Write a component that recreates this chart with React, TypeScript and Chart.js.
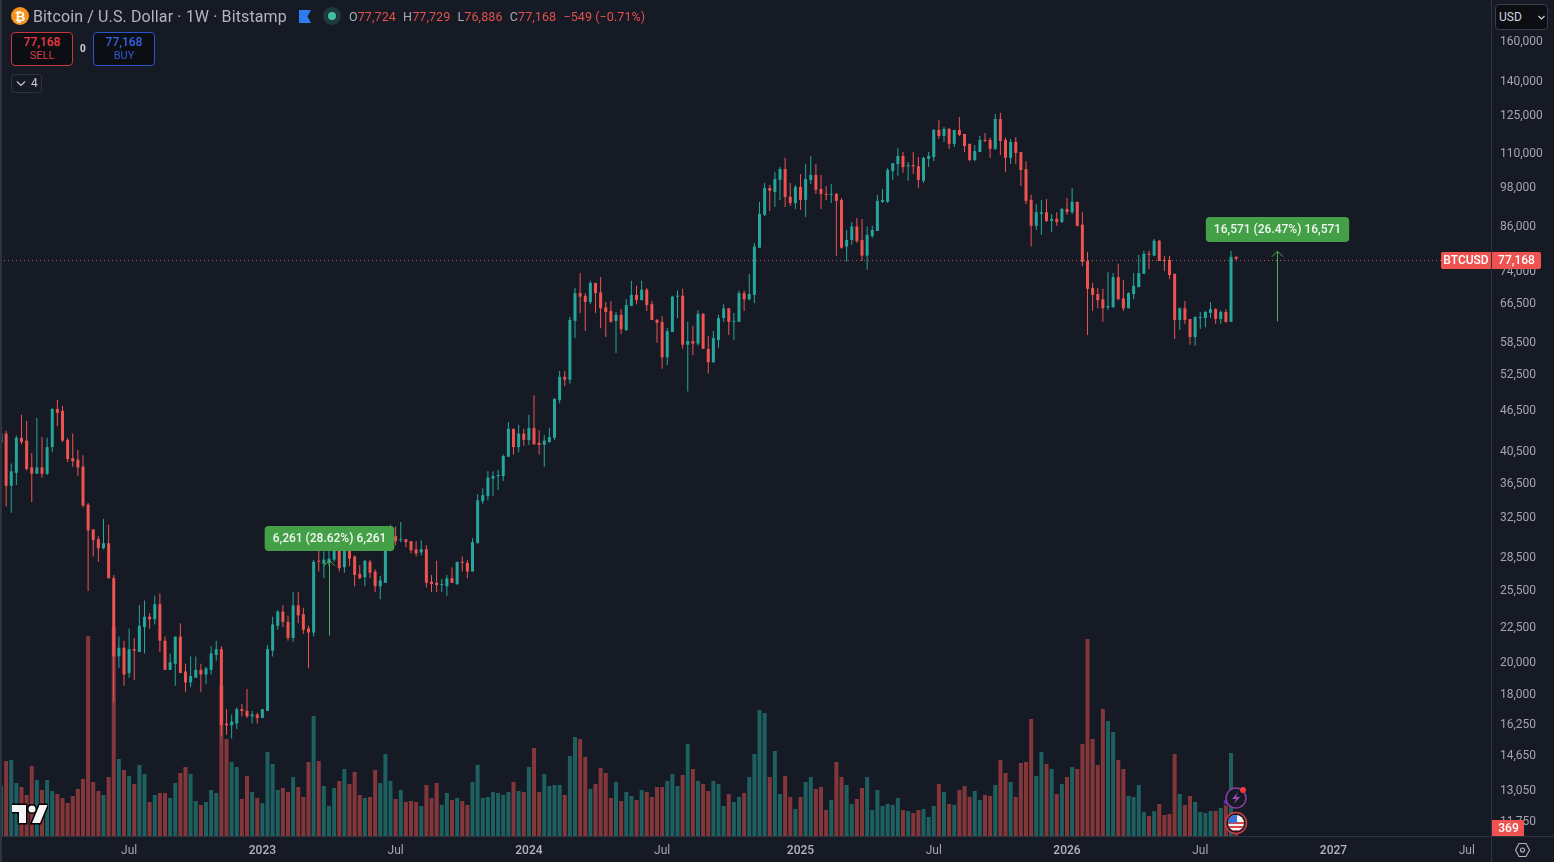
import React, { useEffect, useRef } from "react";
import { Chart, registerables } from "chart.js";

Chart.register(...registerables);

// Weekly BTC/USD candles, prices in thousands of dollars
const opens = [
  41.7,43.0,36.1,37.7,42.4,42.0,38.4,37.6,38.4,37.6,
  41.1,46.7,46.4,42.1,39.6,39.4,38.5,33.9,31.2,30.2,
  29.3,29.8,26.5,20.4,21.0,19.3,20.9,20.7,22.5,23.3,
  23.1,24.3,21.5,19.5,19.9,21.8,19.4,18.7,19.0,19.5,
  19.2,19.5,20.5,20.9,16.3,16.2,16.3,17.1,17.0,16.7,
  16.8,16.6,17.0,20.8,22.6,23.7,22.9,21.7,24.2,23.5,
  22.4,22.1,28.1,27.8,27.9,28.2,29.2,27.5,29.1,28.5,
  26.9,26.6,28.0,27.1,25.8,26.1,29.3,30.5,30.1,30.2,
  30.0,29.2,28.9,29.2,26.2,26.1,25.9,25.8,26.5,26.0,
  28.0,27.9,27.1,29.8,34.3,34.9,37.0,37.3,37.3,39.8,
  43.7,41.1,43.0,42.1,43.8,41.7,41.4,41.8,42.4,48.1,
  52.0,51.5,62.7,68.8,68.2,66.8,71.2,69.0,65.6,64.8,
  62.7,64.0,60.8,65.9,68.4,67.2,69.6,66.3,62.9,62.5,
  55.5,60.4,68.0,68.2,57.9,58.6,58.1,64.2,57.1,54.6,
  58.8,63.3,65.4,62.5,62.5,68.8,67.4,68.4,80.1,89.4,
  97.8,96.5,100.5,104.2,95.0,93.0,98.2,94.0,100.5,102.2,
  97.5,95.9,95.6,95.9,94.0,80.4,82.2,86.0,82.2,78.0,
  83.3,84.7,93.4,93.4,103.5,106.0,108.9,105.2,105.6,105.2,
  100.2,107.8,108.5,118.8,116.4,119.2,113.4,118.8,117.2,113.4,
  107.4,110.3,114.9,114.9,111.5,123.2,114.9,108.2,114.1,110.3,
  104.2,94.0,86.2,89.7,90.2,87.6,88.2,87.3,91.2,90.2,
  93.4,86.5,76.6,70.0,68.6,67.4,65.6,65.6,72.6,67.6,
  65.4,68.6,70.2,73.4,78.5,78.0,82.0,76.9,76.9,73.4,
  62.9,65.4,63.1,59.4,63.3,63.3,64.4,65.2,63.1,64.6,
  62.5,77.724,
];
const highs = [
  43.0,43.4,38.9,42.7,45.8,44.9,40.3,45.3,42.5,42.4,
  46.8,48.1,47.2,42.4,43.0,40.7,40.0,34.1,31.2,30.5,
  32.3,31.7,26.8,21.8,21.5,22.4,21.7,24.2,24.6,23.6,
  25.0,25.2,21.8,20.6,21.8,22.8,19.9,20.4,20.4,19.9,
  19.7,21.1,21.5,21.1,17.1,16.8,17.2,17.4,18.3,17.0,
  16.9,17.1,21.2,23.3,23.8,24.2,23.4,25.3,25.3,24.0,
  22.6,28.2,29.1,29.0,29.1,29.4,29.6,29.5,29.3,28.6,
  27.7,28.2,28.2,27.3,26.7,29.6,31.7,31.5,32.0,30.2,
  30.0,30.0,30.1,29.6,26.8,28.1,26.4,26.8,27.5,28.0,
  28.5,28.2,30.3,35.1,35.8,37.9,37.9,38.1,40.1,44.7,
  43.7,44.3,43.7,45.8,48.9,43.5,42.8,43.8,48.4,53.0,
  53.0,63.5,70.0,73.6,68.8,71.7,71.2,72.6,66.8,67.0,
  64.6,65.2,67.4,71.7,70.5,71.7,70.0,67.0,63.1,63.7,
  61.3,68.2,69.4,69.8,62.5,61.7,65.0,64.4,59.6,60.6,
  64.0,66.3,65.4,64.4,69.4,69.4,73.4,81.4,93.4,99.5,
  98.8,103.2,104.9,108.2,99.5,98.8,102.5,106.0,108.9,106.0,
  102.2,98.5,99.1,96.2,94.6,85.0,87.3,88.5,88.2,86.0,
  86.2,95.6,97.5,104.6,106.3,111.9,110.3,106.7,110.3,108.5,
  108.5,110.3,119.2,122.8,120.0,119.6,118.8,124.0,117.2,113.4,
  113.0,116.4,117.6,115.7,125.3,125.8,115.7,115.3,116.0,110.3,
  107.0,95.6,92.7,94.0,94.3,89.7,90.2,91.5,94.6,97.8,
  93.4,90.2,79.0,71.2,70.0,69.8,73.9,73.6,75.9,71.9,
  69.0,73.6,78.2,79.3,79.3,82.5,82.2,78.0,78.0,73.4,
  65.6,67.0,63.1,63.7,64.6,64.8,66.8,65.4,65.0,65.2,
  79.3,77.729,
];
const lows = [
  41.7,33.7,33.0,36.2,41.5,38.0,34.2,37.6,37.1,37.4,
  40.4,44.1,41.8,39.1,38.5,37.3,33.6,25.4,28.5,28.0,
  29.2,26.5,17.5,19.6,18.5,19.0,18.85,20.7,20.6,22.4,
  22.7,20.7,19.5,19.5,18.5,19.3,18.1,18.4,19.0,18.1,
  18.6,19.2,20.1,15.6,15.7,15.5,16.0,16.7,16.6,16.3,
  16.3,16.6,17.0,20.4,22.3,22.5,21.5,21.4,22.8,22.0,
  19.6,21.8,27.1,26.5,27.6,28.0,27.1,27.0,27.6,25.8,
  26.4,25.8,26.5,25.3,24.7,26.1,29.0,29.6,29.9,29.4,
  28.8,28.5,28.6,25.7,25.3,25.3,25.3,25.0,26.1,25.9,
  27.1,26.5,27.1,29.8,34.0,34.4,34.9,35.6,36.7,39.8,
  40.1,40.4,41.3,41.4,41.4,40.1,38.5,41.7,42.1,47.6,
  50.4,50.8,59.2,64.4,60.6,66.3,64.4,61.2,59.4,62.3,
  56.3,60.0,60.6,65.9,66.3,67.2,64.8,62.9,58.3,53.4,
  54.1,60.4,63.3,57.1,49.5,55.9,57.7,57.1,52.6,54.5,
  57.3,62.5,59.8,58.8,62.5,64.8,67.2,66.5,80.1,89.1,
  90.6,91.8,94.0,91.8,92.1,91.2,90.9,88.8,99.1,95.9,
  91.2,94.0,93.0,78.0,79.8,76.4,80.9,81.4,76.6,74.4,
  82.8,84.7,93.0,93.0,100.5,101.9,102.9,100.2,102.5,97.8,
  99.5,104.9,107.0,115.3,114.1,111.5,112.2,116.4,110.3,107.0,
  107.0,110.3,114.1,108.2,111.1,109.2,103.2,106.0,106.0,98.5,
  92.7,80.4,85.0,83.6,87.3,84.4,86.2,87.0,89.4,89.7,
  86.0,75.3,59.8,64.8,65.4,62.5,65.0,65.6,67.2,64.8,
  65.4,67.4,70.2,73.4,74.6,78.0,76.6,74.1,72.1,59.0,
  60.8,62.1,57.9,57.7,61.0,61.4,63.3,62.1,62.1,62.3,
  62.5,76.886,
];
const closes = [
  43.0,36.1,37.9,42.4,41.8,38.2,37.6,38.4,37.6,41.1,
  46.7,46.1,42.0,39.5,39.2,38.4,33.8,31.1,30.1,29.3,
  29.8,26.5,20.4,21.0,19.2,20.9,20.8,22.6,23.3,23.1,
  24.3,21.5,19.5,20.0,21.8,19.3,18.7,19.1,19.5,19.2,
  19.6,20.6,20.9,16.2,16.2,16.4,17.1,17.0,16.7,16.8,
  16.6,17.1,20.9,22.7,23.7,22.9,21.7,24.2,23.4,22.3,
  22.1,28.0,28.0,28.2,28.3,29.2,27.4,29.1,28.3,26.8,
  26.5,28.1,27.0,25.8,26.3,29.3,30.7,30.0,30.2,29.9,
  29.1,28.8,29.2,26.1,26.0,25.9,25.9,26.5,26.1,28.0,
  27.9,27.1,29.9,34.4,35.0,37.1,37.3,37.4,39.9,43.7,
  41.1,43.0,42.1,43.8,41.5,41.4,42.0,42.5,48.3,52.0,
  51.5,62.9,68.8,68.0,66.8,71.2,68.8,65.4,64.6,62.5,
  64.0,61.0,66.1,68.4,67.2,69.6,66.1,62.9,62.3,55.5,
  60.6,68.0,68.2,57.9,58.6,58.1,64.2,57.1,54.6,59.2,
  63.3,65.4,62.5,62.7,68.8,67.4,68.6,80.4,89.7,97.8,
  96.9,100.8,104.2,94.9,93.0,98.2,94.0,100.8,102.2,97.2,
  95.9,95.6,95.9,93.7,80.1,82.2,86.0,81.9,78.0,83.6,
  85.0,93.7,94.0,103.9,106.3,108.9,104.9,105.6,105.2,100.5,
  108.2,108.9,118.8,116.4,119.2,113.4,118.8,116.8,112.6,107.4,
  110.7,114.9,114.5,111.5,123.2,114.5,108.2,114.1,110.0,103.9,
  93.7,86.2,90.2,90.2,87.6,88.2,87.3,91.2,90.2,93.4,
  86.2,76.4,69.8,68.4,67.2,65.4,65.9,72.6,67.4,65.4,
  68.8,70.5,73.6,78.5,78.2,82.0,76.6,76.6,73.1,62.9,
  65.4,62.9,59.4,63.5,63.5,64.6,65.2,63.1,64.6,62.5,
  77.7,77.168,
];
const volumes = [
  7500,11250,11400,7950,7350,6150,10500,8400,6900,8400,
  6750,6300,5700,4950,6000,7050,8550,30000,8100,6750,
  6150,8850,31350,11550,9900,9000,7800,10650,9300,5100,
  6150,6450,6450,5700,7950,9450,10350,9300,5250,4650,
  5100,6900,6450,22500,14550,11100,10350,5550,9000,6600,
  5700,4950,12600,10800,6900,7200,6600,8850,7350,5850,
  11100,18000,11250,7500,4500,7200,8250,10050,7800,9600,
  6150,5700,5850,9900,7950,12300,8250,5550,6900,5100,
  5250,5100,4500,7650,5700,7950,4650,6450,5400,5700,
  5250,4650,8100,10650,5700,5850,6600,6450,6150,6600,
  8100,6750,6600,10350,13200,6600,9300,7500,7650,7650,
  6150,12000,14850,14550,11850,7050,7800,10200,9450,5700,
  8100,5250,6600,6000,5400,6900,6600,5850,7350,7350,
  8250,9300,7500,9150,13800,10050,8250,7800,6750,8250,
  7800,4500,6300,5100,5850,6450,8850,12300,18900,18450,
  8850,12750,6300,9000,5850,4050,5850,8100,8850,7050,
  7350,3900,5400,11100,8850,7650,4800,5550,7200,8850,
  3900,6900,4500,4800,4650,5700,3900,3750,3450,3900,
  4050,2850,4500,7800,6600,4800,4650,6900,7500,5850,
  6750,5400,6150,6000,7650,11400,9450,8100,5850,10950,
  11100,17550,9000,12600,10800,10050,6300,7800,8850,10350,
  10050,13800,29550,14550,10650,19050,17250,15600,11400,10050,
  6000,5850,7650,3600,3000,3750,4800,3150,3300,12300,
  6300,4650,6000,5100,3600,3450,3750,3750,4200,5000,
  12450,369,
];

const priceTicks = [
  160000,140000,125000,110000,98000,86000,74000,66500,58500,52500,46500,40500,
  36500,32500,28500,25500,22500,20000,18000,16250,14650,13050,11750,
];
const timeTickWeeks = [25,51,77,103,129,156,182,208,234,260,286];
const timeTickLabels = ["Jul","2023","Jul","2024","Jul","2025","Jul","2026","Jul","2027","Jul"];

const lastPrice = 77168;
const lastVolume = 369;
const measureWeeks = [64,249];
const measureFrom = [21877,62603];
const measureTo = [28138,79174];
const measureLabels = ["6,261 (28.62%) 6,261","16,571 (26.47%) 16,571"];

const UP = "#26a69a";
const DOWN = "#ef5350";
const UP_VOL = "rgba(38,166,154,0.5)";
const DOWN_VOL = "rgba(239,83,80,0.5)";
const BG = "#161a25";
const AXIS = "#2f333e";
const TEXT = "#a3a6af";
const FONT = "Roboto, sans-serif";
const MEASURE = "#43a047";
const MEASURE_LINE = "#4caf50";

const fmt = (n: number) => n.toLocaleString("en-US");
const isUp = (i: number) => closes[i] >= opens[i];
const isYearTick = (c: any) => {
  const label = c && c.tick ? timeTickLabels[timeTickWeeks.indexOf(c.tick.value)] : "";
  return !!label && label.length === 4;
};
const noPadding = (s: any) => {
  s.paddingLeft = 0;
  s.paddingRight = 0;
  s.paddingTop = 0;
  s.paddingBottom = 0;
};

function roundRect(ctx: CanvasRenderingContext2D, x: number, y: number, w: number, h: number, r: number | number[]) {
  ctx.beginPath();
  ctx.roundRect(x, y, w, h, r);
  ctx.fill();
}

const overlayPlugin = {
  id: "overlay",
  afterDatasetsDraw(chart: any) {
    const { ctx, chartArea, scales } = chart;
    const ly = Math.round(scales.y.getPixelForValue(lastPrice)) + 1.5;
    ctx.save();
    ctx.strokeStyle = "rgba(232,128,118,0.75)";
    ctx.lineWidth = 1;
    ctx.setLineDash([1, 3]);
    ctx.beginPath();
    ctx.moveTo(chartArea.left, ly);
    ctx.lineTo(chartArea.right, ly);
    ctx.stroke();
    ctx.restore();
  },
  afterDraw(chart: any) {
    const { ctx, chartArea, scales } = chart;
    const x = scales.x;
    const y = scales.y;
    const v = scales.yVol;
    ctx.save();
    // axis frame
    ctx.strokeStyle = AXIS;
    ctx.lineWidth = 1;
    ctx.beginPath();
    ctx.moveTo(chartArea.right + 0.5, 0);
    ctx.lineTo(chartArea.right + 0.5, chart.height);
    ctx.moveTo(0, chartArea.bottom + 0.5);
    ctx.lineTo(chart.width, chartArea.bottom + 0.5);
    ctx.stroke();

    // measure arrows and their labels
    measureWeeks.forEach((week, i) => {
      const px = Math.round(x.getPixelForValue(week)) + 0.5;
      const from = y.getPixelForValue(measureFrom[i]);
      const to = y.getPixelForValue(measureTo[i]);
      ctx.strokeStyle = MEASURE_LINE;
      ctx.lineWidth = 1;
      ctx.beginPath();
      ctx.moveTo(px, from);
      ctx.lineTo(px, to);
      ctx.moveTo(px - 5.5, to + 5.5);
      ctx.lineTo(px, to);
      ctx.lineTo(px + 5.5, to + 5.5);
      ctx.stroke();
      ctx.font = `500 12px ${FONT}`;
      const w = ctx.measureText(measureLabels[i]).width + 16;
      const bottom = Math.round(to - 9);
      ctx.fillStyle = MEASURE;
      roundRect(ctx, px - w / 2, bottom - 25, w, 25, 4);
      ctx.fillStyle = "#f2f7f2";
      ctx.textAlign = "center";
      ctx.textBaseline = "middle";
      ctx.fillText(measureLabels[i], px, bottom - 12);
    });

    // last-price tags
    const ly = Math.round(y.getPixelForValue(lastPrice));
    ctx.font = `500 12px ${FONT}`;
    ctx.textAlign = "center";
    ctx.textBaseline = "middle";
    ctx.fillStyle = DOWN;
    roundRect(ctx, chartArea.right - 50, ly - 7, 50, 17, [2, 0, 0, 2]);
    roundRect(ctx, chartArea.right + 1, ly - 7, 49, 17, [0, 2, 2, 0]);
    ctx.fillStyle = "#ffffff";
    ctx.fillText("BTCUSD", chartArea.right - 25, ly + 2);
    ctx.fillText(fmt(lastPrice), chartArea.right + 25.5, ly + 1.5);

    // last-volume tag
    const vy = v.getPixelForValue(lastVolume);
    ctx.fillStyle = DOWN;
    ctx.fillRect(chartArea.right + 1, chartArea.bottom - 16, 32, 16);
    ctx.fillStyle = "#ffffff";
    ctx.fillText(String(lastVolume), chartArea.right + 17.5, vy - 5);
    ctx.restore();
  },
};

const abs = (left: number, top: number, extra: React.CSSProperties = {}): React.CSSProperties => ({
  position: "absolute",
  left,
  top,
  whiteSpace: "nowrap",
  fontFamily: FONT,
  ...extra,
});

const tradeBox = (left: number, color: string): React.CSSProperties =>
  abs(left, 32, {
    width: 62,
    height: 34,
    boxSizing: "border-box",
    border: `1px solid ${color}`,
    borderRadius: 4,
    background: "#0c0e14",
    color,
    textAlign: "center",
    fontSize: 12,
    lineHeight: "13px",
    paddingTop: 3,
  });

export default function App() {
  const ref = useRef<HTMLCanvasElement>(null);

  useEffect(() => {
    const weeks = opens.map((_, i) => i);
    const chart = new Chart(ref.current as HTMLCanvasElement, {
      type: "bar",
      data: {
        datasets: [
          {
            label: "Body",
            data: weeks.map((i) => ({
              x: i,
              y: [Math.min(opens[i], closes[i]) * 1000, Math.max(opens[i], closes[i]) * 1000],
            })),
            backgroundColor: weeks.map((i) => (isUp(i) ? UP : DOWN)),
            barThickness: 3,
            minBarLength: 1,
            grouped: false,
            inflateAmount: 0,
            yAxisID: "y",
            order: 1,
          },
          {
            label: "Wick",
            data: weeks.map((i) => ({ x: i, y: [lows[i] * 1000, highs[i] * 1000] })),
            backgroundColor: weeks.map((i) => (isUp(i) ? UP : DOWN)),
            barThickness: 1,
            grouped: false,
            inflateAmount: 0,
            yAxisID: "y",
            order: 2,
          },
          {
            label: "Volume",
            data: weeks.map((i) => ({ x: i, y: volumes[i] })),
            backgroundColor: weeks.map((i) => (isUp(i) ? UP_VOL : DOWN_VOL)),
            barThickness: 4,
            grouped: false,
            inflateAmount: 0,
            yAxisID: "yVol",
            order: 3,
          },
        ],
      } as any,
      options: {
        animation: false,
        responsive: false,
        maintainAspectRatio: false,
        devicePixelRatio: 1,
        layout: { padding: 0 },
        plugins: { legend: { display: false }, tooltip: { enabled: false }, title: { display: false } },
        events: [],
        scales: {
          x: {
            type: "linear",
            offset: false,
            min: -0.195,
            max: 290.73,
            grid: { display: false, drawTicks: false },
            border: { display: false },
            afterFit: (s: any) => { s.height = 26; noPadding(s); },
            afterBuildTicks: (s: any) => { s.ticks = timeTickWeeks.map((value) => ({ value })); },
            ticks: {
              autoSkip: false,
              maxRotation: 0,
              padding: 8,
              color: (c: any) => (isYearTick(c) ? "#b2b5be" : TEXT),
              font: (c: any) => ({
                family: FONT,
                size: 12,
                weight: isYearTick(c) ? "500" : "400",
              }),
              callback: (value: any) => timeTickLabels[timeTickWeeks.indexOf(value)],
            },
          },
          y: {
            type: "logarithmic",
            position: "right",
            min: 11185,
            max: 183500,
            grid: { display: false, drawTicks: false },
            border: { display: false },
            afterFit: (s: any) => { s.width = 63; noPadding(s); },
            afterBuildTicks: (s: any) => { s.ticks = priceTicks.map((value) => ({ value })); },
            ticks: {
              autoSkip: false,
              padding: 9,
              labelOffset: 1,
              crossAlign: "near",
              color: TEXT,
              font: { family: FONT, size: 12 },
              callback: (value: any) => fmt(Number(value)),
            },
          },
          yVol: {
            type: "linear",
            display: false,
            min: 0,
            max: 125400,
            afterFit: (s: any) => { s.width = 0; noPadding(s); },
          },
        },
      } as any,
      plugins: [overlayPlugin],
    });
    return () => chart.destroy();
  }, []);

  return (
    <div style={{ position: "fixed", left: 0, top: 0, width: 1554, height: 862, overflow: "hidden", background: BG }}>
      <canvas ref={ref} width={1554} height={862} style={{ display: "block", width: 1554, height: 862 }} />
      <div style={{ position: "absolute", left: 0, top: 0, width: 2, height: 862, background: AXIS }} />

      {/* symbol header */}
      <svg style={{ position: "absolute", left: 11, top: 7 }} width={18} height={18} viewBox="0 0 18 18">
        <circle cx="9" cy="9" r="9" fill="#f7931a" />
        <text x="9" y="13.5" textAnchor="middle" fontSize="13" fontWeight="700" fontFamily={FONT} fill="#fff">₿</text>
      </svg>
      <div style={abs(33, 8, { color: "#b2b5be", fontSize: 16, lineHeight: "18px", letterSpacing: 0.12 })}>
        Bitcoin / U.S. Dollar · 1W · Bitstamp
      </div>
      <svg style={{ position: "absolute", left: 299, top: 10 }} width={12} height={13} viewBox="0 0 12 13">
        <path d="M0 0H12L8.5 6.5L12 13H0Z" fill="#2e7bf0" />
      </svg>
      <svg style={{ position: "absolute", left: 323, top: 7 }} width={18} height={18} viewBox="0 0 18 18">
        <circle cx="9" cy="9" r="9" fill="#1f3a3d" />
        <circle cx="9" cy="9" r="4" fill="#42bda8" />
      </svg>
      <div style={abs(349, 9, { fontSize: 12.5, lineHeight: "16px", color: DOWN, opacity: 0.95, letterSpacing: 0.1 })}>
        <span style={{ color: "#b2b5be" }}>O</span>77,724{"  "}
        <span style={{ color: "#b2b5be", marginLeft: 4 }}>H</span>77,729{"  "}
        <span style={{ color: "#b2b5be", marginLeft: 4 }}>L</span>76,886{"  "}
        <span style={{ color: "#b2b5be", marginLeft: 4 }}>C</span>77,168{"  "}
        <span style={{ marginLeft: 4 }}>−549 (−0.71%)</span>
      </div>

      {/* order buttons */}
      <div style={{ ...tradeBox(11, "#c9363d") }}>
        <div style={{ color: "#ef3a40", fontWeight: 500 }}>77,168</div>
        <div style={{ fontSize: 11, color: "#d23c42" }}>SELL</div>
      </div>
      <div style={abs(80, 42, { color: "#d1d4dc", fontSize: 10, fontWeight: 700, lineHeight: "13px" })}>0</div>
      <div style={{ ...tradeBox(93, "#2a55c9") }}>
        <div style={{ color: "#3366e6", fontWeight: 500 }}>77,168</div>
        <div style={{ fontSize: 11, color: "#2f5ccf" }}>BUY</div>
      </div>
      <div style={abs(11, 74, { width: 31, height: 19, boxSizing: "border-box", border: "1px solid #2f333e", borderRadius: 3, color: "#c6c9d1", fontSize: 12, lineHeight: "17px" })}>
        <svg style={{ position: "absolute", left: 4, top: 5 }} width={10} height={7} viewBox="0 0 10 7">
          <path d="M1 1.5L5 5.5L9 1.5" fill="none" stroke="#c6c9d1" strokeWidth="1.2" />
        </svg>
        <span style={{ position: "absolute", left: 19 }}>4</span>
      </div>

      {/* currency selector */}
      <div style={abs(1495, 4, { width: 53, height: 26, boxSizing: "border-box", border: "1px solid #3a3e49", borderRadius: 4, background: "#0c0e14", color: "#d1d4dc", fontSize: 12, lineHeight: "24px", paddingLeft: 3 })}>
        USD
        <svg style={{ position: "absolute", left: 42, top: 10 }} width={7} height={5} viewBox="0 0 7 5">
          <path d="M0.5 1L3.5 4L6.5 1" fill="none" stroke="#d1d4dc" strokeWidth="1.1" />
        </svg>
      </div>

      {/* watermark logo */}
      <svg style={{ position: "absolute", left: 12, top: 801 }} width={36} height={28} viewBox="0 0 36 28">
        <g fill="#f4f4f4" stroke="#000" strokeWidth="3" paintOrder="stroke">
          <path d="M14 22H7V11H0V4h14v18z" />
          <path d="M28 22h-8l7.5-18h8L28 22z" />
          <circle cx="20" cy="8" r="3.5" />
        </g>
      </svg>

      {/* event markers */}
      <svg style={{ position: "absolute", left: 1218, top: 784 }} width={34} height={52} viewBox="0 0 34 52">
        <path d="M8 14L11.5 18L8 22L4.5 18Z" fill="#5130b8" stroke="#111" strokeWidth="1" />
        <circle cx="18" cy="14" r="10" fill="#161a25" stroke="#8e3ba0" strokeWidth="1.5" />
        <path d="M20 8L14 15H18L16 20L22 13H18Z" fill="#a04ab5" />
        <circle cx="25" cy="6" r="3" fill="#ef3a40" />
        <circle cx="18" cy="39" r="10.5" fill="#161a25" stroke="#d23c42" strokeWidth="1.5" />
        <clipPath id="flag"><circle cx="18" cy="39" r="8" /></clipPath>
        <g clipPath="url(#flag)">
          <rect x="10" y="31" width="16" height="16" fill="#f2f2f2" />
          <rect x="10" y="38" width="16" height="2" fill="#d9434a" />
          <rect x="10" y="42" width="16" height="2" fill="#d9434a" />
          <rect x="10" y="46" width="16" height="2" fill="#d9434a" />
          <rect x="10" y="31" width="9" height="8" fill="#3a6fd8" />
        </g>
      </svg>

      {/* settings icon */}
      <svg style={{ position: "absolute", left: 1514, top: 842 }} width={17} height={16} viewBox="0 0 17 16">
        <path d="M5 1.5H12L15.5 8L12 14.5H5L1.5 8Z" fill="none" stroke="#b2b5be" strokeWidth="1.1" />
        <circle cx="8.5" cy="8" r="2" fill="none" stroke="#b2b5be" strokeWidth="1.1" />
      </svg>
    </div>
  );
}
